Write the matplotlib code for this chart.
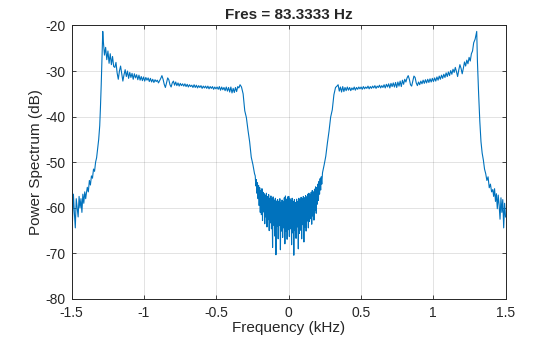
import numpy as np
import matplotlib
matplotlib.use('Agg')
import matplotlib.pyplot as plt

plt.rcParams['font.family'] = ['Liberation Sans', 'DejaVu Sans']
plt.rcParams['axes.unicode_minus'] = False

# spectrum, segment by segment (frequency range in kHz, power in dB)
left_noise_f = (-1.500, -1.402)
left_noise_db = [-59.0, -63.0, -57.0, -61.0, -64.4, -58.0, -60.0, -62.0, -57.5, -60.0,
                 -58.0, -61.0, -57.0, -59.0, -56.5, -58.0]

left_skirt_f = (-1.398, -1.305)
left_skirt_db = [-57.0, -55.5, -56.5, -54.0, -55.0, -53.0, -53.5, -51.5, -52.0, -50.0,
                 -49.0, -47.0, -45.0, -42.0]

left_peak_f = (-1.300, -1.284)
left_peak_db = [-38.0, -33.0, -27.0, -21.3]

left_shelf_f = (-1.280, -0.335)
left_shelf_db = [-23.5, -26.5, -24.8, -27.5, -25.6, -28.3, -26.2, -28.6, -26.8, -29.0,
                 -29.2, -28.1, -30.4, -31.8, -30.0, -28.9, -30.6, -32.2, -30.8, -29.7,
                 -31.2, -30.0, -31.6, -30.3, -31.4, -30.5, -31.8, -30.6, -31.5, -30.8,
                 -31.9, -30.9, -32.0, -31.2, -32.1, -31.3, -32.2, -31.4, -32.0, -31.5,
                 -32.3, -31.6, -32.4, -31.8, -32.5, -31.9, -32.3, -32.0, -32.6, -32.1,
                 -31.6, -31.0, -31.8, -32.9, -33.6, -32.6, -31.5, -31.9, -33.0, -33.5,
                 -32.6, -32.2, -33.1, -32.4, -33.2, -32.6, -33.3, -32.7, -33.2, -32.8,
                 -33.3, -32.8, -33.4, -32.9, -33.5, -33.0, -33.4, -33.1, -33.6, -33.0,
                 -33.6, -33.1, -33.7, -33.2, -33.6, -33.2, -33.8, -33.3, -33.7, -33.3,
                 -33.8, -33.3, -33.9, -33.4, -33.8, -33.4, -34.0, -33.5, -33.9, -33.5,
                 -34.0, -33.4, -34.2, -33.5, -34.1, -33.6, -34.3, -33.5, -34.4, -33.6,
                 -34.6, -33.5, -34.8, -33.8, -34.7, -33.6, -34.5, -33.4, -33.7, -33.0]

left_drop_f = (-0.325, -0.235)
left_drop_db = [-33.5, -35.0, -38.7, -40.2, -43.0, -45.5, -48.9, -50.5, -52.5]

center_f = (-0.230, 0.230)
center_db = [-53.0, -55.2, -53.8, -56.8, -54.5, -58.0, -55.1, -59.5, -55.6, -61.0,
             -56.2, -61.5, -55.8, -62.8, -56.6, -60.9, -56.9, -63.5, -57.2, -62.0,
             -56.8, -64.2, -57.5, -62.6, -57.1, -65.0, -57.9, -63.3, -57.4, -64.6,
             -58.0, -68.7, -57.6, -63.8, -58.3, -66.2, -57.9, -70.3, -58.5, -64.1,
             -58.2, -66.8, -58.6, -63.9, -58.0, -69.2, -58.9, -65.1, -58.3, -66.5,
             -58.7, -64.4, -57.8, -67.9, -57.4, -65.2, -58.1, -66.9, -57.6, -64.8,
             -57.5, -66.3, -58.0, -64.6, -58.4, -68.1, -57.9, -65.5, -58.6, -70.4,
             -58.2, -65.0, -58.8, -66.7, -58.1, -64.2, -58.6, -69.0, -57.9, -65.6,
             -58.3, -64.9, -57.7, -66.8, -58.0, -63.7, -57.5, -67.5, -57.8, -64.3,
             -57.3, -65.1, -57.6, -62.9, -57.0, -64.4, -56.8, -63.0, -57.2, -62.4,
             -56.6, -63.6, -56.2, -61.8, -56.5, -62.7, -55.9, -60.6, -55.4, -61.2,
             -55.6, -59.2, -54.8, -58.4, -54.2, -57.0, -53.6, -56.1, -53.2, -54.8]

right_rise_f = (0.235, 0.325)
right_rise_db = [-52.3, -50.6, -48.7, -45.8, -43.2, -40.1, -38.5, -35.2, -33.6]

right_shelf_f = (0.335, 1.280)
right_shelf_db = [-33.3, -33.0, -34.4, -33.5, -34.6, -33.4, -34.5, -33.6, -34.3, -33.5,
                  -34.2, -33.6, -34.3, -33.7, -34.1, -33.5, -34.2, -33.6, -34.0, -33.5,
                  -33.9, -33.5, -34.0, -33.4, -33.9, -33.5, -33.8, -33.3, -33.9, -33.4,
                  -33.8, -33.3, -33.7, -33.2, -33.8, -33.3, -33.6, -33.1, -33.7, -33.2,
                  -33.6, -33.0, -33.7, -32.9, -33.5, -32.8, -33.7, -32.7, -33.4, -32.6,
                  -33.5, -32.5, -33.6, -32.4, -33.3, -32.2, -33.4, -32.0, -32.9, -31.8,
                  -32.4, -31.5, -31.0, -31.8, -33.0, -33.3, -32.2, -31.1, -31.4, -32.6,
                  -33.2, -32.4, -33.0, -32.2, -32.8, -32.0, -32.7, -31.9, -32.6, -31.8,
                  -32.5, -31.7, -32.4, -31.6, -32.3, -31.5, -32.2, -31.3, -32.0, -31.1,
                  -31.8, -30.9, -31.6, -30.7, -31.4, -30.4, -31.2, -30.2, -31.0, -29.9,
                  -30.7, -29.6, -30.3, -29.2, -30.1, -31.2, -29.8, -28.6, -29.4, -30.6,
                  -29.4, -28.0, -28.9, -27.6, -28.4, -27.0, -27.8, -26.2, -25.6, -23.8]

right_peak_f = (1.290, 1.301)
right_peak_db = [-23.0, -21.3]

right_skirt_f = (1.306, 1.412)
right_skirt_db = [-28.0, -35.0, -41.0, -45.5, -48.0, -49.5, -51.5, -52.5, -54.0, -53.2,
                  -55.6, -54.8, -56.5, -56.0]

right_noise_f = (1.418, 1.500)
right_noise_db = [-57.5, -55.8, -58.6, -56.9, -60.2, -57.2, -59.4, -62.5, -57.8, -61.0,
                  -58.2, -64.4, -59.0, -62.0]

segments = [
    (left_noise_f, left_noise_db), (left_skirt_f, left_skirt_db),
    (left_peak_f, left_peak_db), (left_shelf_f, left_shelf_db),
    (left_drop_f, left_drop_db), (center_f, center_db),
    (right_rise_f, right_rise_db), (right_shelf_f, right_shelf_db),
    (right_peak_f, right_peak_db), (right_skirt_f, right_skirt_db),
    (right_noise_f, right_noise_db),
]

freq = np.concatenate([np.linspace(r[0], r[1], len(v)) for r, v in segments])
power = np.concatenate([np.array(v) for r, v in segments])

x_ticks = [-1.5, -1, -0.5, 0, 0.5, 1, 1.5]
x_labels = ['-1.5', '-1', '-0.5', '0', '0.5', '1', '1.5']
y_ticks = [-80, -70, -60, -50, -40, -30, -20]

fig = plt.figure(figsize=(5.6, 3.37), dpi=100)
ax = fig.add_axes([0.1277, 0.1128, 0.775, 0.8116])
ax.plot(freq, power, color='#0072BD', linewidth=0.8)

ax.set_xlim(-1.5, 1.5)
ax.set_ylim(-80, -20)
ax.set_xticks(x_ticks)
ax.set_xticklabels(x_labels)
ax.set_yticks(y_ticks)
ax.set_yticklabels([str(t) for t in y_ticks])
ax.grid(True, color='#262626', alpha=0.15, linewidth=0.6)
ax.tick_params(direction='in', top=True, right=True, length=3, width=0.6,
               labelsize=10, colors='#262626', labelcolor='#262626')
ax.tick_params(axis='x', pad=5)
ax.tick_params(axis='y', pad=4)
for s in ax.spines.values():
    s.set_linewidth(0.7)
    s.set_color('#262626')

ax.set_xlabel('Frequency (kHz)', fontsize=11, color='#262626', labelpad=1)
ax.set_ylabel('Power Spectrum (dB)', fontsize=11, color='#262626', labelpad=2)
ax.set_title('Fres = 83.3333 Hz', fontsize=11, fontweight='bold', color='#262626', pad=5)

fig.savefig('out.png', dpi=100)
